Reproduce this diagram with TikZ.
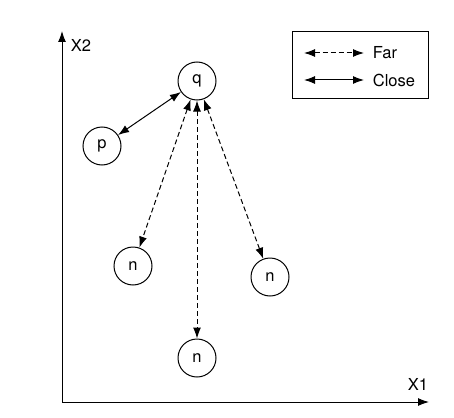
\documentclass[tikz,border=0pt]{standalone}
\usepackage{fontspec}
\setmainfont{TeX Gyre Heros}
\usetikzlibrary{arrows.meta}
\begin{document}
\begin{tikzpicture}[x=1pt,y=-1pt,line width=1pt,
  every node/.style={font=\fontsize{16.5}{19}\selectfont},
  pt/.style={draw,circle,minimum size=38pt,inner sep=0pt},
  tip/.style={-{Latex[length=11pt,width=8pt]}},
  far/.style={{Latex[length=11pt,width=8pt]}-{Latex[length=11pt,width=8pt]},dash pattern=on 5pt off 3pt},
  close/.style={{Latex[length=11pt,width=8pt]}-{Latex[length=11pt,width=8pt]}}]
\useasboundingbox (0,0) rectangle (454,417);
% axes
\coordinate (o) at (62,402);
\coordinate (ytop) at (62,31);
\coordinate (xend) at (429,402);
\draw [tip] (o) -- (ytop);
\draw [tip] (o) -- (xend);
\node [anchor=west] (x2) at (67,45) {X2};
\node (x1) at (418,384) {X1};
% points
\node [pt] (q) at (197,81) {q};
\node [pt] (p) at (102,146) {p};
\node [pt] (n1) at (133,266) {n};
\node [pt] (n2) at (197,358) {n};
\node [pt] (n3) at (270,277) {n};
\draw [close] (p) -- (q);
\draw [far] (q) -- (n1);
\draw [far] (q) -- (n2);
\draw [far] (q) -- (n3);
% legend
\node [draw,minimum width=136pt,minimum height=66pt,inner sep=0pt] (leg) at (360,65) {};
\coordinate (fa) at (304,53);
\coordinate (fb) at (364,53);
\coordinate (ca) at (304,80);
\coordinate (cb) at (364,80);
\draw [far] (fa) -- (fb);
\draw [close] (ca) -- (cb);
\node [anchor=west] (lfar) at (369,53) {Far};
\node [anchor=west] (lclose) at (369,80) {Close};
\end{tikzpicture}
\end{document}
